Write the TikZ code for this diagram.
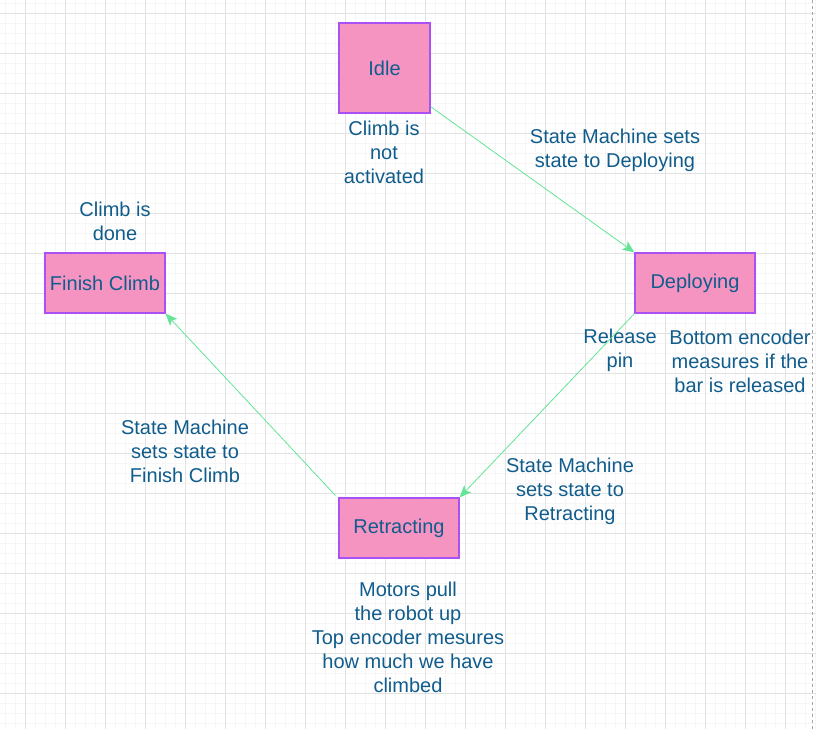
\documentclass[tikz,border=0pt]{standalone}
\usepackage{fontspec}
\setmainfont{Liberation Sans}
\usetikzlibrary{arrows.meta}

\definecolor{statefill}{RGB}{246,148,193}
\definecolor{stateborder}{RGB}{170,80,245}
\definecolor{labeltext}{RGB}{16,92,140}
\definecolor{linkgreen}{RGB}{100,228,150}
\definecolor{gridmajor}{RGB}{226,226,226}
\definecolor{gridminor}{RGB}{246,246,246}

\begin{document}
\begin{tikzpicture}
		[x=1pt, y=-1pt,
		every node/.style={font=\fontsize{20pt}{24pt}\selectfont, text=labeltext},
		state/.style ={rectangle, draw=stateborder, line width=1.2pt, fill=statefill, minimum width=120pt, minimum height=60pt, inner sep=0pt},
		note/.style ={align=center, inner sep=0pt},
		link/.style ={draw=linkgreen, line width=0.8pt, -{Stealth[length=12pt,width=10pt,inset=3pt]}},
		]
		\useasboundingbox (0,0) rectangle (816,729);

		% background grid
		\foreach \gx in {5,15,...,815} \draw[gridminor, line width=0.6pt] (\gx,0) -- (\gx,729);
		\foreach \gy in {3,13,...,723} \draw[gridminor, line width=0.6pt] (0,\gy) -- (816,\gy);
		\foreach \gx in {25,65,...,785} \draw[gridmajor, line width=0.8pt] (\gx,0) -- (\gx,729);
		\foreach \gy in {13,53,...,713} \draw[gridmajor, line width=0.8pt] (0,\gy) -- (816,\gy);
		\draw[gray!70, dashed, line width=0.8pt] (812.5,0) -- (812.5,729);

		\draw (384.5,68) node[state, minimum width=91pt, minimum height=90pt] (idle) {\raisebox{-2pt}{Idle}};
		\draw (695,283) node[state] (deploying) {\raisebox{-2pt}{Deploying}};
		\draw (399,528) node[state] (retracting) {\raisebox{-2pt}{Retracting}};
		\draw (105,283) node[state] (finish) {\raisebox{-2pt}{Finish Climb}};

		\draw (384,152) node[note] (nIdle) {Climb is\\not\\activated};
		\draw (615,150.5) node[note] (nDeploy) {State Machine sets\\state to Deploying};
		\draw (115,221.5) node[note] (nDone) {Climb is\\done};
		\draw (620,350.5) node[note] (nPin) {Release\\pin};
		\draw (740,361) node[note] (nBottom) {Bottom encoder\\measures if the\\bar is released};
		\draw (570,491) node[note] (nRetract) {State Machine\\sets state to\\Retracting};
		\draw (185,451) node[note] (nFinish) {State Machine\\sets state to\\Finish Climb};
		\draw (408,637) node[note] (nMotors) {Motors pull\\the robot up\\Top encoder mesures\\how much we have\\climbed};

		% transitions
		\draw[link] ([yshift=7pt]idle.south east) -- (deploying.north west);
		\draw[link] (deploying.south west) -- (retracting.north east);
		\draw[link] ([xshift=-3pt,yshift=2pt]retracting.north west) -- (finish.south east);

	\end{tikzpicture}
\end{document}
